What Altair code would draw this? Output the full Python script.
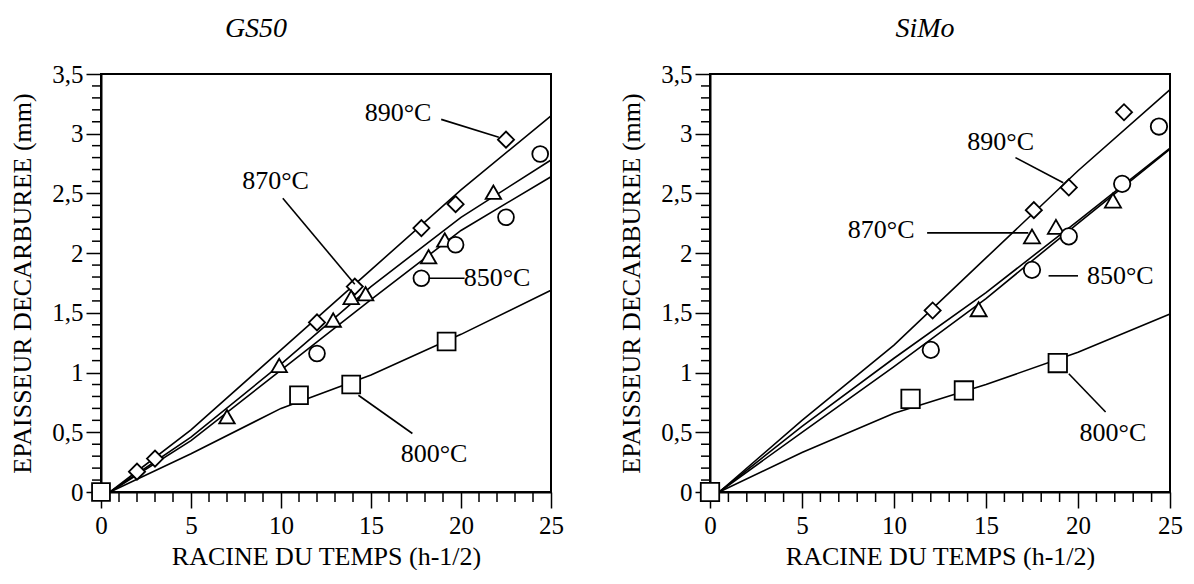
import altair as alt
import pandas as pd

FONT = "Liberation Serif"

# ---------------- GS50 (left panel) ----------------
gs_890_x = [0, 2.0, 3.0, 12.0, 14.1, 17.8, 19.7, 22.5]
gs_890_y = [0, 0.17, 0.28, 1.42, 1.72, 2.21, 2.41, 2.95]
gs_870_x = [0, 7.0, 9.9, 12.9, 13.9, 14.7, 18.2, 19.1, 21.8]
gs_870_y = [0, 0.63, 1.06, 1.44, 1.63, 1.66, 1.97, 2.11, 2.51]
gs_850_x = [0, 12.0, 17.8, 19.7, 22.5, 24.4]
gs_850_y = [0, 1.16, 1.79, 2.07, 2.30, 2.83]
gs_800_x = [0, 11.0, 13.9, 19.2]
gs_800_y = [0, 0.81, 0.90, 1.26]

fit_x = [0.5, 5, 10, 15, 20, 25]
gs_fit_890 = [0, 0.52, 1.19, 1.86, 2.53, 3.15]
gs_fit_870 = [0, 0.46, 1.07, 1.72, 2.30, 2.78]
gs_fit_850 = [0, 0.43, 1.02, 1.61, 2.19, 2.64]
gs_fit_800 = [0, 0.32, 0.70, 0.98, 1.32, 1.69]

gs_label_text = ["890°C", "870°C", "850°C", "800°C"]
gs_label_x = [16.5, 9.7, 22.0, 18.5]
gs_label_y = [3.17, 2.60, 1.79, 0.32]
gs_lead_x = [18.9, 10.1, 18.2, 14.3]
gs_lead_y = [3.12, 2.46, 1.79, 0.81]
gs_lead_x2 = [22.1, 14.1, 20.2, 17.3]
gs_lead_y2 = [2.97, 1.74, 1.79, 0.49]

# ---------------- SiMo (right panel) ----------------
sm_890_x = [0, 12.1, 17.6, 19.5, 22.5]
sm_890_y = [0, 1.52, 2.36, 2.55, 3.18]
sm_870_x = [0, 14.6, 17.5, 18.8, 21.9]
sm_870_y = [0, 1.53, 2.14, 2.22, 2.44]
sm_850_x = [0, 12.0, 17.5, 19.5, 22.4, 24.4]
sm_850_y = [0, 1.19, 1.86, 2.14, 2.58, 3.06]
sm_800_x = [0, 10.9, 13.8, 18.9]
sm_800_y = [0, 0.78, 0.85, 1.08]

sm_fit_890 = [0, 0.60, 1.23, 1.96, 2.69, 3.37]
sm_fit_870 = [0, 0.55, 1.12, 1.67, 2.27, 2.88]
sm_fit_850 = [0, 0.50, 1.05, 1.62, 2.25, 2.87]
sm_fit_800 = [0, 0.33, 0.66, 0.90, 1.17, 1.49]

sm_label_text = ["890°C", "870°C", "850°C", "800°C"]
sm_label_x = [15.8, 9.3, 22.3, 21.9]
sm_label_y = [2.93, 2.19, 1.81, 0.49]
sm_lead_x = [16.6, 11.8, 18.4, 19.5]
sm_lead_y = [2.80, 2.17, 1.81, 0.99]
sm_lead_x2 = [19.2, 17.3, 20.0, 21.5]
sm_lead_y2 = [2.59, 2.17, 1.81, 0.67]

x_major = [0, 5, 10, 15, 20, 25]
x_minor = [v for v in range(26) if v % 5 != 0]
y_major = [0, 0.5, 1, 1.5, 2, 2.5, 3, 3.5]
y_minor = [round(i * 0.1, 1) for i in range(36) if i % 5 != 0]


def panel(title, title_dx, pts, fits, lab, lead, width, height):
    x_enc = alt.X(
        "x:Q",
        scale=alt.Scale(domain=[0, 25], nice=False, zero=False),
        title="RACINE DU TEMPS (h-1/2)",
        axis=alt.Axis(
            values=x_major, format="d", tickSize=16, labelPadding=5,
            labelFlush=False, labelOverlap=False, titlePadding=5, grid=False,
            labelFont=FONT, labelFontSize=25, titleFont=FONT, titleFontSize=26,
        ),
    )
    y_enc = alt.Y(
        "y:Q",
        scale=alt.Scale(domain=[0, 3.5], nice=False, zero=False),
        title="EPAISSEUR DECARBUREE (mm)",
        axis=alt.Axis(
            values=y_major, format=".1~f",
            labelExpr="replace(datum.label, '.', ',')",
            tickSize=15, labelPadding=3,
            labelFlush=False, labelOverlap=False, titlePadding=16, grid=False,
            labelFont=FONT, labelFontSize=25, titleFont=FONT, titleFontSize=26,
        ),
    )

    rows = []
    for s, xs, ys in fits:
        for a, b in zip(xs, ys):
            rows.append({"s": s, "x": a, "y": b})
    layers = [
        alt.Chart(pd.DataFrame(rows)).mark_line(color="black", strokeWidth=1.6).encode(
            x=x_enc, y=y_enc, detail="s:N"
        )
    ]

    # minor ticks
    layers.append(
        alt.Chart(pd.DataFrame({"x": x_minor})).mark_tick(
            orient="vertical", size=10, thickness=1.5, color="black", yOffset=5, opacity=1
        ).encode(x=x_enc, y=alt.datum(0, type="quantitative"))
    )
    layers.append(
        alt.Chart(pd.DataFrame({"y": y_minor})).mark_tick(
            orient="horizontal", size=9, thickness=1.5, color="black", xOffset=-4.5, opacity=1
        ).encode(y=y_enc, x=alt.datum(0, type="quantitative"))
    )

    for shape, size, xs, ys in pts:
        df = pd.DataFrame({"x": xs, "y": ys})
        layers.append(
            alt.Chart(df).mark_point(shape=shape, size=size, filled=True, fill="white",
                                     stroke="black", strokeWidth=1.8, opacity=1)
            .encode(x=x_enc, y=y_enc)
        )

    ldf = pd.DataFrame({"x": lead[0], "y": lead[1], "x2": lead[2], "y2": lead[3]})
    layers.append(
        alt.Chart(ldf).mark_rule(color="black", strokeWidth=1.6).encode(
            x=x_enc, y=y_enc, x2="x2:Q", y2="y2:Q"
        )
    )
    tdf = pd.DataFrame({"t": lab[0], "x": lab[1], "y": lab[2]})
    layers.append(
        alt.Chart(tdf).mark_text(font=FONT, fontSize=26, color="black", align="center", baseline="middle")
        .encode(x=x_enc, y=y_enc, text="t:N")
    )

    return alt.layer(*layers).properties(
        width=width,
        height=height,
        title=alt.TitleParams(title, font=FONT, fontStyle="italic", fontSize=28, fontWeight="normal",
                              anchor="middle", frame="group", dx=title_dx, offset=19, color="black"),
    )


left = panel(
    "GS50", -70,
    [("diamond", 260, gs_890_x, gs_890_y), ("triangle-up", 240, gs_870_x, gs_870_y),
     ("circle", 250, gs_850_x, gs_850_y), ("square", 320, gs_800_x, gs_800_y)],
    [("890", fit_x, gs_fit_890), ("870", fit_x, gs_fit_870), ("850", fit_x, gs_fit_850), ("800", fit_x, gs_fit_800)],
    (gs_label_text, gs_label_x, gs_label_y),
    (gs_lead_x, gs_lead_y, gs_lead_x2, gs_lead_y2),
    450, 418,
)
right = panel(
    "SiMo", -15,
    [("diamond", 260, sm_890_x, sm_890_y), ("triangle-up", 260, sm_870_x, sm_870_y),
     ("circle", 270, sm_850_x, sm_850_y), ("square", 340, sm_800_x, sm_800_y)],
    [("890", fit_x, sm_fit_890), ("870", fit_x, sm_fit_870), ("850", fit_x, sm_fit_850), ("800", fit_x, sm_fit_800)],
    (sm_label_text, sm_label_x, sm_label_y),
    (sm_lead_x, sm_lead_y, sm_lead_x2, sm_lead_y2),
    460, 418,
)

chart = (
    alt.hconcat(left, right, spacing=52)
    .properties(padding={"top": 6, "left": 0, "right": 0, "bottom": 0})
    .configure(background="white")
    .configure_view(stroke="black", strokeWidth=2)
    .configure_axis(
        labelColor="black", titleFontWeight="normal", titleColor="black",
        domainColor="black", domainWidth=2, tickColor="black", tickWidth=1.5,
    )
)

chart.save("out.html", embed_options={"renderer": "svg", "actions": False})
